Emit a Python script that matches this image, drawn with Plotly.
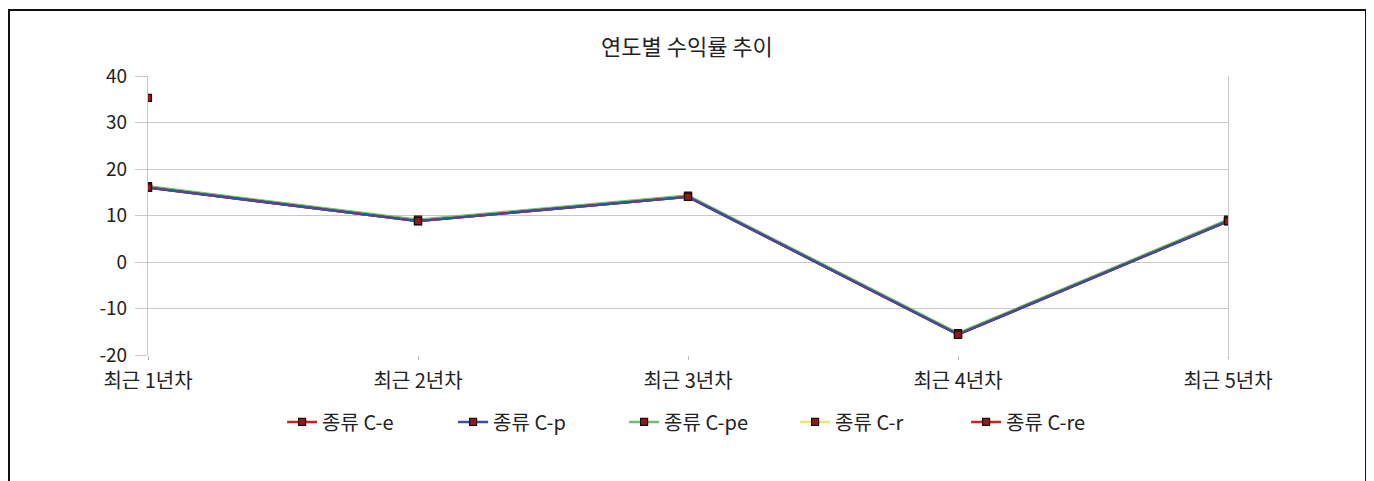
import plotly.graph_objects as go

categories = ["최근 1년차", "최근 2년차", "최근 3년차", "최근 4년차", "최근 5년차"]
series_names = ["종류 C-e", "종류 C-p", "종류 C-pe", "종류 C-r", "종류 C-re"]
vals_e = [16.0, 8.8, 14.0, -15.6, 8.8]
vals_p = [16.0, 8.8, 14.0, -15.6, 8.8]
vals_pe = [16.3, 9.1, 14.3, -15.3, 9.1]
vals_r = [35.3, None, None, None, None]
vals_re = [16.0, 8.8, 14.0, -15.6, 8.8]
y_ticks = [-20, -10, 0, 10, 20, 30, 40]
y_tick_labels = ["-20", "-10", "0", "10", "20", "30", "40"]

line_colors = {"종류 C-e": "#c0281e", "종류 C-p": "#3a4fa0", "종류 C-pe": "#6cc070",
               "종류 C-r": "#f2e36a", "종류 C-re": "#c0281e"}
values = {"종류 C-e": vals_e, "종류 C-p": vals_p, "종류 C-pe": vals_pe,
          "종류 C-r": vals_r, "종류 C-re": vals_re}
draw_order = ["종류 C-pe", "종류 C-e", "종류 C-re", "종류 C-r", "종류 C-p"]

font = "Noto Sans CJK KR, sans-serif"
fig = go.Figure()
for name in draw_order:
    fig.add_trace(go.Scatter(
        x=categories, y=values[name], name=name, mode="lines+markers",
        legendrank=series_names.index(name) + 1,
        line=dict(color=line_colors[name], width=2.4),
        marker=dict(symbol="square", size=7, color="#8c1c1c",
                    line=dict(color="#2a0808", width=1.2)),
    ))

W, H = 1366, 473
L, T = 140, 68
PW, PH = 1080, 279
fig.update_layout(
    width=W, height=H,
    paper_bgcolor="white", plot_bgcolor="white",
    margin=dict(l=L, r=W - L - PW, t=T, b=H - T - PH),
    title=dict(text="연도별 수익률 추이", x=0.497, xanchor="center", y=1 - 39 / H, yanchor="middle",
               font=dict(family=font, size=22, color="#222")),
    font=dict(family=font, color="#222"),
    showlegend=True,
    legend=dict(orientation="h", x=0.52, xanchor="center", y=-0.24, yanchor="middle",
                entrywidth=126, entrywidthmode="pixels",
                font=dict(family=font, size=20, color="#222"), itemwidth=30),
    xaxis=dict(type="category", range=[0, 4], showgrid=False,
               ticks="outside", ticklen=4, tickcolor="#bbb",
               tickfont=dict(family=font, size=20, color="#222"),
               showline=False, zeroline=False, ticklabelstandoff=4),
    yaxis=dict(range=[-20, 40], tickvals=y_ticks, ticktext=y_tick_labels,
               showgrid=True, gridcolor="#c8c8c8", gridwidth=1.2,
               ticks="outside", ticklen=12, tickcolor="#c8c8c8",
               showline=True, linecolor="#c8c8c8", linewidth=1.2, mirror=True,
               zeroline=False, ticklabelstandoff=4,
               tickfont=dict(family=font, size=19, color="#222")),
    shapes=[dict(type="rect", xref="paper", yref="paper",
                 x0=(9 - 148) / PW, x1=(1366 - 148) / PW,
                 y0=(355 - 520) / PH, y1=(355 - 10) / PH,
                 line=dict(color="#111", width=2), fillcolor="rgba(0,0,0,0)", layer="below")],
)

fig.write_html("out.html")
